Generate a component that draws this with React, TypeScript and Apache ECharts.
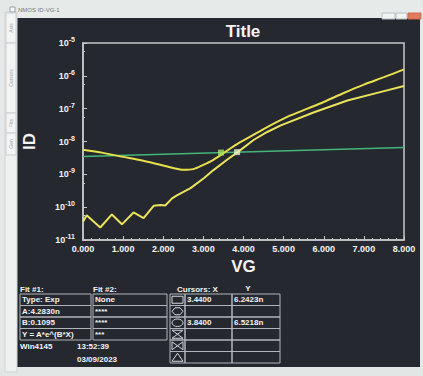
import React, { useEffect, useRef } from 'react';
import * as echarts from 'echarts';

// ---- data ----
const xTickValues = [0, 1, 2, 3, 4, 5, 6, 7, 8];
const vgUp = [0, 0.5, 1, 1.5, 2, 2.25, 2.5, 2.75, 3, 3.25, 3.5, 3.75, 4, 4.5, 5, 5.5, 6, 6.5, 7, 7.5, 8];
const idUp = [5.6e-9, 4.5e-9, 3.4e-9, 2.6e-9, 1.86e-9, 1.55e-9, 1.37e-9, 1.44e-9, 1.95e-9, 2.77e-9, 4.4e-9, 7.1e-9, 1.08e-8, 2.4e-8, 5.0e-8, 9.0e-8, 1.6e-7, 3.0e-7, 5.4e-7, 9.1e-7, 1.57e-6];
const vgDown = [0, 0.09, 0.43, 0.72, 0.97, 1.26, 1.51, 1.76, 1.93, 2.05, 2.22, 2.34, 2.68, 3.01, 3.26, 3.59, 3.88, 4.26, 4.59, 4.93, 5.76, 6.59, 7.43, 8];
const idDown = [3.6e-11, 5.7e-11, 2.4e-11, 6.0e-11, 3.0e-11, 6.9e-11, 4.6e-11, 1.1e-10, 1.17e-10, 1.12e-10, 1.86e-10, 2.3e-10, 3.8e-10, 7.6e-10, 1.37e-9, 2.77e-9, 5.0e-9, 1.13e-8, 1.95e-8, 3.1e-8, 7.8e-8, 1.77e-7, 3.25e-7, 4.9e-7];
const vgFit = [0, 8];
const idFit = [3.5e-9, 6.6e-9];
const cursorVG = [3.44, 3.84];
const cursorID = [4.6e-9, 4.75e-9];

const fit1Rows = ['Type: Exp', 'A:4.2830n', 'B:0.1095', 'Y = A*e^(B*X)'];
const fit2Rows = ['None', '****', '****', '***'];
const cursorXRows = ['3.4400', '', '3.8400', '', '', ''];
const cursorYRows = ['6.2423n', '', '6.5218n', '', '', ''];
const tabLabels = ['Axis', 'Cursors', 'Fits', 'Gen'];

const FONT = '"Liberation Sans", Arial, Helvetica, sans-serif';
const WHITE = '#f4f4f4';
const FRAME = '#c6c8cb';
const TABLE = '#b2b6ba';

function txt(text: string, x: number, y: number, size = 8, align = 'left', color = WHITE, weight = 'bold', extra: any = {}) {
  return {
    type: 'text',
    x,
    y,
    z: 20,
    ...extra,
    style: {
      text,
      fill: color,
      font: `${weight} ${size}px ${FONT}`,
      align,
      verticalAlign: 'middle',
      textAlign: align,
      textVerticalAlign: 'middle',
    },
  };
}

function rect(x: number, y: number, w: number, h: number, fill: string, stroke?: string, lw = 1) {
  return {
    type: 'rect',
    z: 5,
    shape: { x, y, width: w, height: h },
    style: { fill, stroke: stroke || null, lineWidth: lw },
  };
}

export default function App() {
  const ref = useRef<HTMLDivElement>(null);
  useEffect(() => {
    const chart = echarts.init(ref.current!, null, { renderer: 'svg' });

    const graphics: any[] = [];
    // light surroundings (photo of the window)
    graphics.push(rect(0, 0, 423, 18, '#e6ebea'));
    graphics.push(rect(0, 0, 17, 376, '#e4e9e8'));
    graphics.push(rect(420, 0, 3, 376, '#e4e9e8'));
    graphics.push(rect(0, 367, 423, 9, '#e2e7e6'));
    graphics.push(rect(5, 12, 12, 360, '#eef1f0', '#cfd4d4'));
    // window title
    graphics.push(rect(10, 7, 5, 5, '#f7f7f7', '#9aa0a4'));
    graphics.push(txt('NMOS ID-VG-1', 18, 10, 6, 'left', '#6f777d', 'normal'));
    // window buttons
    graphics.push(rect(382, 13, 13, 6, '#f2f4f4', '#b8bcbf'));
    graphics.push(rect(396, 13, 11, 6, '#f2f4f4', '#b8bcbf'));
    graphics.push(rect(408, 13, 13, 6, '#e27a5e', '#c86a50'));
    // left tabs
    const tabs = [[13, 30], [43, 70], [113, 20], [133, 22]];
    tabs.forEach(([y, h], i) => {
      graphics.push(rect(6, y, 10, h, '#f3f5f5', '#c9cece'));
      graphics.push(txt(tabLabels[i], 11, y + h / 2, 5, 'center', '#9aa2a6', 'normal', { rotation: Math.PI / 2 }));
    });

    // title
    graphics.push(txt('Title', 243, 31, 17, 'center'));

    // tables
    const TOP = 294;
    const ROW = 11.5;
    graphics.push(txt('Fit #1:', 20, 289, 8));
    graphics.push(txt('Fit #2:', 93, 289, 8));
    graphics.push(txt('Cursors: X', 177, 289, 8));
    graphics.push(txt('Y', 248, 288, 8, 'center'));
    fit1Rows.forEach((t, i) => {
      graphics.push(rect(20, TOP + i * ROW, 71, ROW, 'rgba(0,0,0,0)', TABLE));
      graphics.push(txt(t, 22, TOP + i * ROW + ROW / 2, 8));
    });
    fit2Rows.forEach((t, i) => {
      graphics.push(rect(93, TOP + i * ROW, 74, ROW, 'rgba(0,0,0,0)', TABLE));
      graphics.push(txt(t, 95, TOP + i * ROW + ROW / 2, 8));
    });
    cursorXRows.forEach((t, i) => {
      const y0 = TOP + i * ROW;
      graphics.push(rect(170, y0, 15, ROW, 'rgba(0,0,0,0)', TABLE));
      graphics.push(rect(185, y0, 47, ROW, 'rgba(0,0,0,0)', TABLE));
      graphics.push(rect(232, y0, 48, ROW, 'rgba(0,0,0,0)', TABLE));
      if (t) graphics.push(txt(t, 187, y0 + ROW / 2, 8));
      if (cursorYRows[i]) graphics.push(txt(cursorYRows[i], 234, y0 + ROW / 2, 8));
    });
    // cursor icons
    const cx = 177.5;
    const cy = (i: number) => TOP + i * ROW + ROW / 2;
    const iconStyle = { fill: 'none', stroke: '#d4d8dc', lineWidth: 1 };
    graphics.push({ type: 'rect', z: 20, shape: { x: 172, y: cy(0) - 3.5, width: 11, height: 7 }, style: iconStyle });
    graphics.push({ type: 'polygon', z: 20, shape: { points: [[172, cy(1)], [175, cy(1) - 3.5], [180, cy(1) - 3.5], [183, cy(1)], [180, cy(1) + 3.5], [175, cy(1) + 3.5]] }, style: iconStyle });
    graphics.push({ type: 'ellipse', z: 20, shape: { cx, cy: cy(2), rx: 5.5, ry: 3.8 }, style: iconStyle });
    graphics.push({ type: 'polygon', z: 20, shape: { points: [[172, cy(3) - 4], [183, cy(3) - 4], [172, cy(3) + 4], [183, cy(3) + 4]] }, style: iconStyle });
    graphics.push({ type: 'polygon', z: 20, shape: { points: [[172, cy(4) - 4], [172, cy(4) + 4], [183, cy(4) - 4], [183, cy(4) + 4]] }, style: iconStyle });
    graphics.push({ type: 'polygon', z: 20, shape: { points: [[172, cy(5) + 4], [cx, cy(5) - 4], [183, cy(5) + 4]] }, style: iconStyle });

    // footer
    graphics.push(txt('Win4145', 20, 346, 8));
    graphics.push(txt('13:52:39', 77, 346, 8));
    graphics.push(txt('03/09/2023', 77, 359, 8));

    const zip = (xs: number[], ys: number[]) => xs.map((x, i) => [x, ys[i]]);

    const option: any = {
      animation: false,
      backgroundColor: '#25282f',
      grid: { left: 83, top: 43, width: 321, height: 197, show: true, borderColor: FRAME, borderWidth: 1.5, backgroundColor: 'transparent' },
      xAxis: {
        type: 'value',
        min: xTickValues[0],
        max: xTickValues[xTickValues.length - 1],
        interval: 1,
        axisLine: { show: true, onZero: false, lineStyle: { color: FRAME, width: 1.5 } },
        axisTick: { show: true, inside: true, length: 4, lineStyle: { color: FRAME } },
        minorTick: { show: true, splitNumber: 5, length: 2, lineStyle: { color: FRAME } },
        splitLine: { show: false },
        axisLabel: { color: WHITE, fontWeight: 'bold', fontSize: 9, fontFamily: FONT, margin: 4, formatter: (v: number) => v.toFixed(3) },
        name: 'VG',
        nameLocation: 'middle',
        nameGap: 15,
        nameTextStyle: { color: WHITE, fontWeight: 'bold', fontSize: 17, fontFamily: FONT },
      },
      yAxis: {
        type: 'log',
        logBase: 10,
        min: 1e-11,
        max: 1e-5,
        axisLine: { show: true, lineStyle: { color: FRAME, width: 1.5 } },
        axisTick: { show: true, inside: true, length: 4, lineStyle: { color: FRAME } },
        minorTick: { show: true, splitNumber: 2, length: 2, lineStyle: { color: FRAME } },
        splitLine: { show: false },
        axisLabel: {
          margin: 8,
          formatter: (v: number) => `{b|10}{s|${Math.round(Math.log10(v))}}`,
          rich: {
            b: { color: WHITE, fontWeight: 'bold', fontSize: 9, fontFamily: FONT },
            s: { color: WHITE, fontWeight: 'bold', fontSize: 7, fontFamily: FONT, padding: [0, 0, 7, 0] },
          },
        },
        name: 'ID',
        nameLocation: 'middle',
        nameGap: 45,
        nameRotate: 90,
        nameTextStyle: { color: WHITE, fontWeight: 'bold', fontSize: 17, fontFamily: FONT },
      },
      series: [
        {
          type: 'line', data: zip(vgFit, idFit), showSymbol: false, z: 2,
          lineStyle: { color: '#45b67a', width: 1.6 },
        },
        {
          type: 'line', data: zip(vgUp, idUp), showSymbol: false, smooth: 0.3, z: 3,
          lineStyle: { color: '#e8e04c', width: 2 },
        },
        {
          type: 'line', data: zip(vgDown, idDown), showSymbol: false, smooth: false, z: 3,
          lineStyle: { color: '#ebe35e', width: 2 },
        },
        {
          type: 'scatter', z: 5, symbol: 'rect', symbolSize: 6,
          data: [
            { value: [cursorVG[0], cursorID[0]], itemStyle: { color: '#a6e05a' } },
            { value: [cursorVG[1], cursorID[1]], itemStyle: { color: '#e6ebcc' } },
          ],
        },
      ],
      graphic: { elements: graphics },
    };
    chart.setOption(option);
    return () => chart.dispose();
  }, []);
  return <div ref={ref} style={{ position: 'fixed', left: 0, top: 0, width: 423, height: 376 }} />;
}
